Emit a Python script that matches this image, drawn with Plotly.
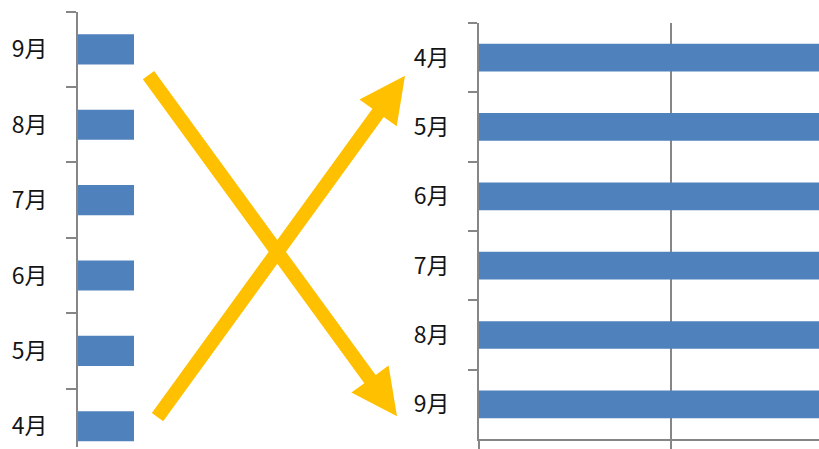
import math
import plotly.graph_objects as go

# Monthly values (same series shown twice: bottom-up and top-down category order)
months = ["4月", "5月", "6月", "7月", "8月", "9月"]
values = [120, 135, 110, 140, 125, 130]

W, H = 819, 449
BAR_BLUE = "#4f81bd"
AXIS_GREY = "#868686"
ARROW_GOLD = "#ffc000"
LABEL_FONT = dict(family="Noto Sans CJK JP, sans-serif", size=23, color="#141414")


def px_x(x):
    return x / W


def px_y(y):
    return 1 - y / H


fig = go.Figure()

# Left chart: default category order (4月 at the bottom)
fig.add_trace(go.Bar(
    x=values, y=months, orientation="h", width=0.4,
    marker=dict(color=BAR_BLUE, line=dict(width=0)),
    xaxis="x", yaxis="y", showlegend=False,
))

# Right chart: reversed category order (4月 at the top)
fig.add_trace(go.Bar(
    x=values, y=months, orientation="h", width=0.4,
    marker=dict(color=BAR_BLUE, line=dict(width=0)),
    xaxis="x2", yaxis="y2", showlegend=False,
))


def arrow_path(tail, tip, shaft=14, head_len=46, head_half=23):
    x0, y0 = tail
    x1, y1 = tip
    d = math.hypot(x1 - x0, y1 - y0)
    ux, uy = (x1 - x0) / d, (y1 - y0) / d
    nx, ny = -uy, ux
    bx, by = x1 - ux * head_len, y1 - uy * head_len
    s = shaft / 2
    pts = [
        (x0 + nx * s, y0 + ny * s),
        (bx + nx * s, by + ny * s),
        (bx + nx * head_half, by + ny * head_half),
        (x1, y1),
        (bx - nx * head_half, by - ny * head_half),
        (bx - nx * s, by - ny * s),
        (x0 - nx * s, y0 - ny * s),
    ]
    parts = [f"{px_x(px):.5f},{px_y(py):.5f}" for px, py in pts]
    return "M " + " L ".join(parts) + " Z"


shapes = [
    dict(type="path", xref="paper", yref="paper",
         path=arrow_path((148.5, 75.5), (397, 418)),
         fillcolor=ARROW_GOLD, line=dict(width=0), layer="above"),
    dict(type="path", xref="paper", yref="paper",
         path=arrow_path((157.5, 419), (405, 76)),
         fillcolor=ARROW_GOLD, line=dict(width=0), layer="above"),
]

left_step = 75.7   # px per category on the left chart
left_bottom_boundary = 466.0
left_low = -0.5 + (left_bottom_boundary - H) / left_step

fig.update_layout(
    width=W, height=H,
    margin=dict(l=0, r=0, t=0, b=0),
    paper_bgcolor="white", plot_bgcolor="white",
    bargap=0.6,
    shapes=shapes,
    xaxis=dict(
        domain=[px_x(78), px_x(134)], range=[0, 14.6],
        showline=False, showgrid=False, zeroline=False,
        showticklabels=False, ticks="", anchor="y",
    ),
    yaxis=dict(
        domain=[0, px_y(11.7)], type="category",
        categoryorder="array", categoryarray=months,
        range=[left_low, 5.5],
        showline=True, linecolor=AXIS_GREY, linewidth=2,
        ticks="outside", tickson="boundaries", ticklen=10,
        tickcolor=AXIS_GREY, tickwidth=2,
        showgrid=False, zeroline=False,
        tickfont=LABEL_FONT, ticklabelstandoff=24,
        anchor="x",
    ),
    xaxis2=dict(
        domain=[px_x(479), 1], range=[0, 340 / 192 * 50], dtick=50,
        showline=True, linecolor=AXIS_GREY, linewidth=2,
        showgrid=True, gridcolor=AXIS_GREY, gridwidth=2,
        ticks="outside", ticklen=10, tickcolor=AXIS_GREY, tickwidth=2,
        zeroline=False, showticklabels=False, anchor="y2",
    ),
    yaxis2=dict(
        domain=[px_y(441), px_y(23)], type="category",
        categoryorder="array", categoryarray=months,
        range=[5.5, -0.5],
        showline=True, linecolor=AXIS_GREY, linewidth=2,
        ticks="outside", tickson="boundaries", ticklen=9,
        tickcolor=AXIS_GREY, tickwidth=2,
        showgrid=False, zeroline=False,
        tickfont=LABEL_FONT, ticklabelstandoff=23,
        anchor="x2",
    ),
)

fig.write_html("out.html")
